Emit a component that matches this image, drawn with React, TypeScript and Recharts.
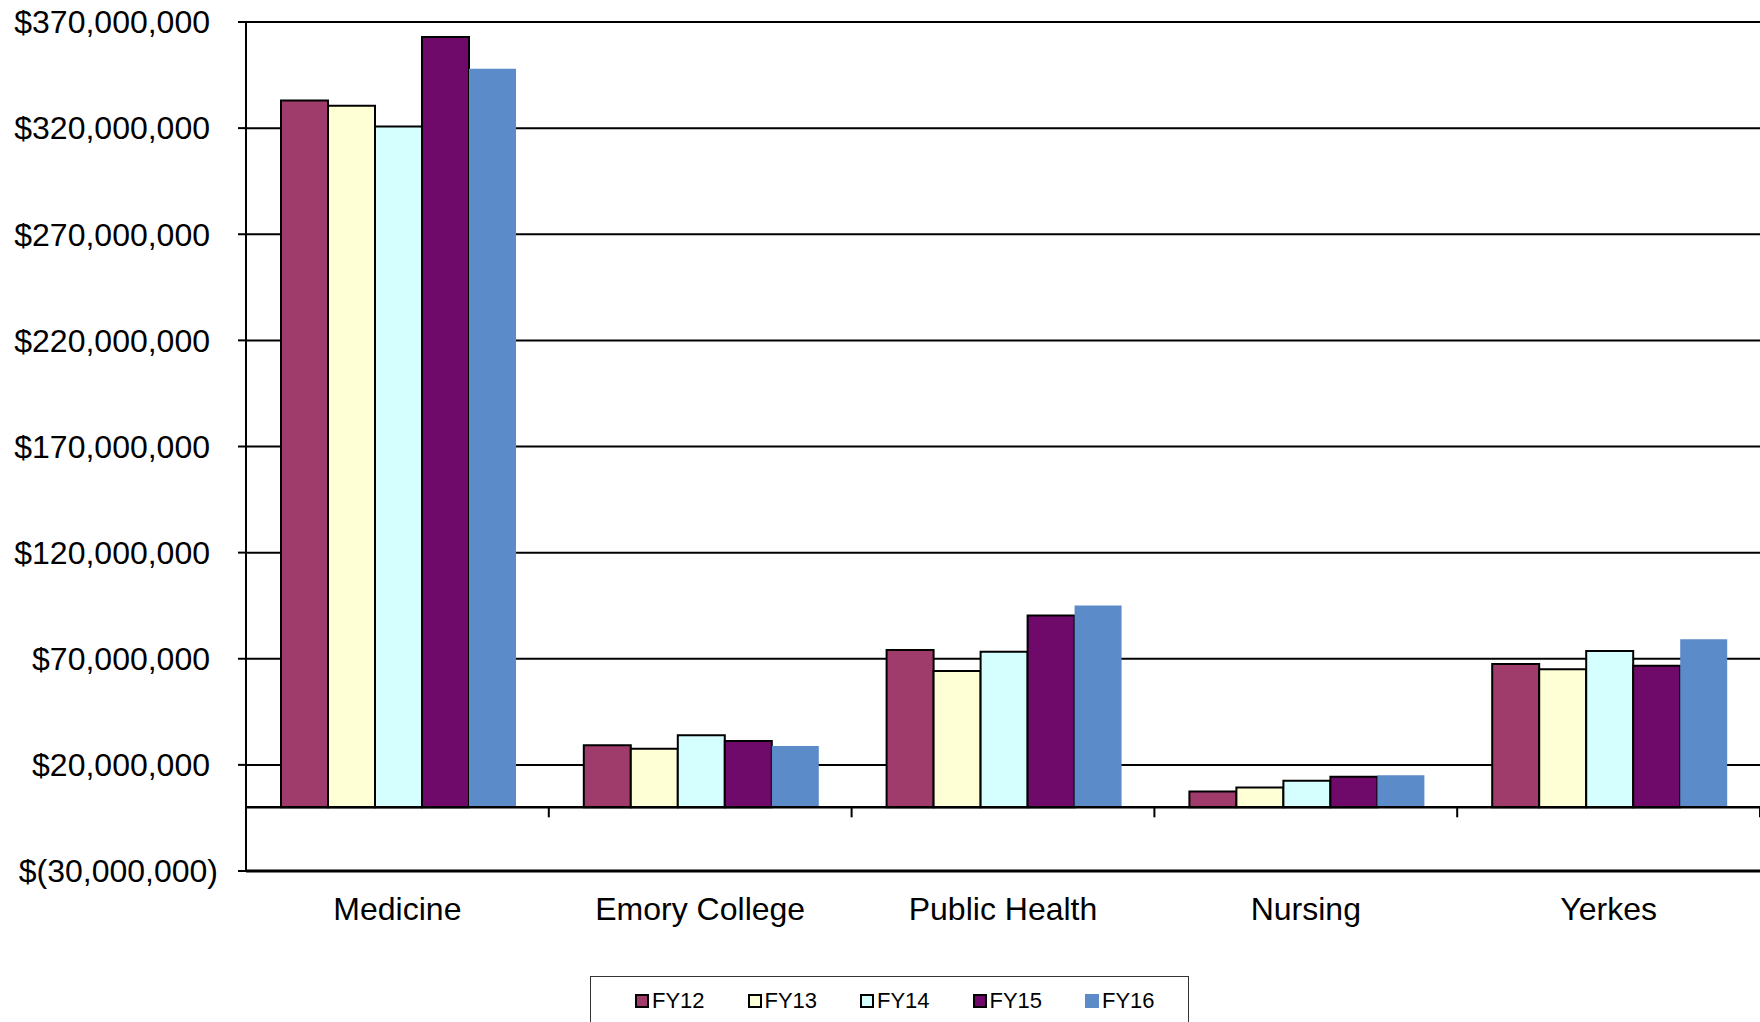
import React from 'react';
import { BarChart, Bar, XAxis, YAxis, CartesianGrid, ReferenceLine } from 'recharts';

const categories = ['Medicine', 'Emory College', 'Public Health', 'Nursing', 'Yerkes'];
const seriesNames = ['FY12', 'FY13', 'FY14', 'FY15', 'FY16'];
const fy12 = [333000000, 29200000, 74100000, 7400000, 67500000];
const fy13 = [330500000, 27600000, 64200000, 9300000, 65000000];
const fy14 = [320800000, 33900000, 73300000, 12500000, 73700000];
const fy15 = [362900000, 31200000, 90400000, 14400000, 66700000];
const fy16 = [348000000, 28900000, 95100000, 15100000, 79200000];
const yTicks = [-30000000, 20000000, 70000000, 120000000, 170000000, 220000000, 270000000, 320000000, 370000000];
const seriesColors = ['#A03C6C', '#FFFFD5', '#D5FFFF', '#6F0A6B', '#5B8BC9'];
const seriesStrokes = ['#000', '#000', '#000', '#000', 'none'];

const seriesValues = [fy12, fy13, fy14, fy15, fy16];
const data = categories.map((c, i) => {
  const row: Record<string, any> = { category: c };
  seriesNames.forEach((s, j) => {
    row[s] = seriesValues[j][i];
  });
  return row;
});

const FONT = '"Liberation Sans", Arial, sans-serif';

const fmt = (v: number) => {
  const s = Math.abs(v).toLocaleString('en-US');
  return v < 0 ? `$(${s})` : `$${s}`;
};

const YTick = (props: any) => {
  const { x, y, payload } = props;
  const v = payload.value as number;
  return (
    <text
      x={v < 0 ? x + 8 : x}
      y={y}
      dy="0.355em"
      textAnchor="end"
      fill="#000"
      fontSize={32}
      fontFamily={FONT}
    >
      {fmt(v)}
    </text>
  );
};

const ZeroLine = (props: any) => {
  const { x1, y1, x2, y2 } = props;
  const n = categories.length;
  const ticks = [];
  for (let i = 1; i <= n; i++) {
    const x = x1 + (i * (x2 - x1)) / n;
    ticks.push(<line key={i} x1={x} y1={y1} x2={x} y2={y1 + 10} stroke="#000" strokeWidth={2} />);
  }
  return (
    <g>
      <line x1={x1} y1={y1} x2={x2} y2={y2} stroke="#000" strokeWidth={2.5} />
      {ticks}
    </g>
  );
};

export default function App() {
  return (
    <div style={{ position: 'absolute', left: 0, top: 0, width: 1760, height: 1022, overflow: 'hidden', background: '#fff', fontFamily: FONT }}>
      <BarChart
        width={1760}
        height={1022}
        data={data}
        margin={{ top: 22, right: 0, left: 0, bottom: 0 }}
        barCategoryGap={35}
        barGap={0}
      >
        <CartesianGrid vertical={false} stroke="#000" strokeWidth={2} />
        <XAxis
          dataKey="category"
          height={151}
          axisLine={{ stroke: '#000', strokeWidth: 3 }}
          tickLine={false}
          tickSize={0}
          tickMargin={26}
          tick={{ fill: '#000', fontSize: 32, fontFamily: FONT }}
          interval={0}
        />
        <YAxis
          width={246}
          domain={[-30000000, 370000000]}
          ticks={yTicks}
          tickFormatter={fmt}
          axisLine={{ stroke: '#000', strokeWidth: 2 }}
          tickLine={{ stroke: '#000', strokeWidth: 2 }}
          tickSize={8}
          tickMargin={28}
          tick={<YTick />}
          interval={0}
          allowDataOverflow
        />
        <ReferenceLine y={0} shape={ZeroLine} />
        {seriesNames.map((s, j) => (
          <Bar
            key={s}
            dataKey={s}
            fill={seriesColors[j]}
            stroke={seriesStrokes[j]}
            strokeWidth={seriesStrokes[j] === 'none' ? 0 : 2}
            isAnimationActive={false}
          />
        ))}
      </BarChart>
      <div
        style={{
          position: 'absolute',
          left: 590,
          top: 976,
          width: 599,
          height: 60,
          border: '1px solid #333',
          boxSizing: 'border-box',
          background: '#fff',
        }}
      >
        <div style={{ position: 'absolute', left: 44, top: 12, display: 'flex', alignItems: 'center' }}>
          {seriesNames.map((s, j) => (
            <div key={s} style={{ width: 112.5, display: 'flex', alignItems: 'center' }}>
              <div
                style={{
                  width: 14,
                  height: 14,
                  boxSizing: 'border-box',
                  background: seriesColors[j],
                  border: seriesStrokes[j] === 'none' ? 'none' : '2px solid #000',
                  marginRight: 3,
                }}
              />
              <span style={{ fontSize: 22, lineHeight: '24px', color: '#000', fontFamily: FONT }}>{s}</span>
            </div>
          ))}
        </div>
      </div>
    </div>
  );
}
